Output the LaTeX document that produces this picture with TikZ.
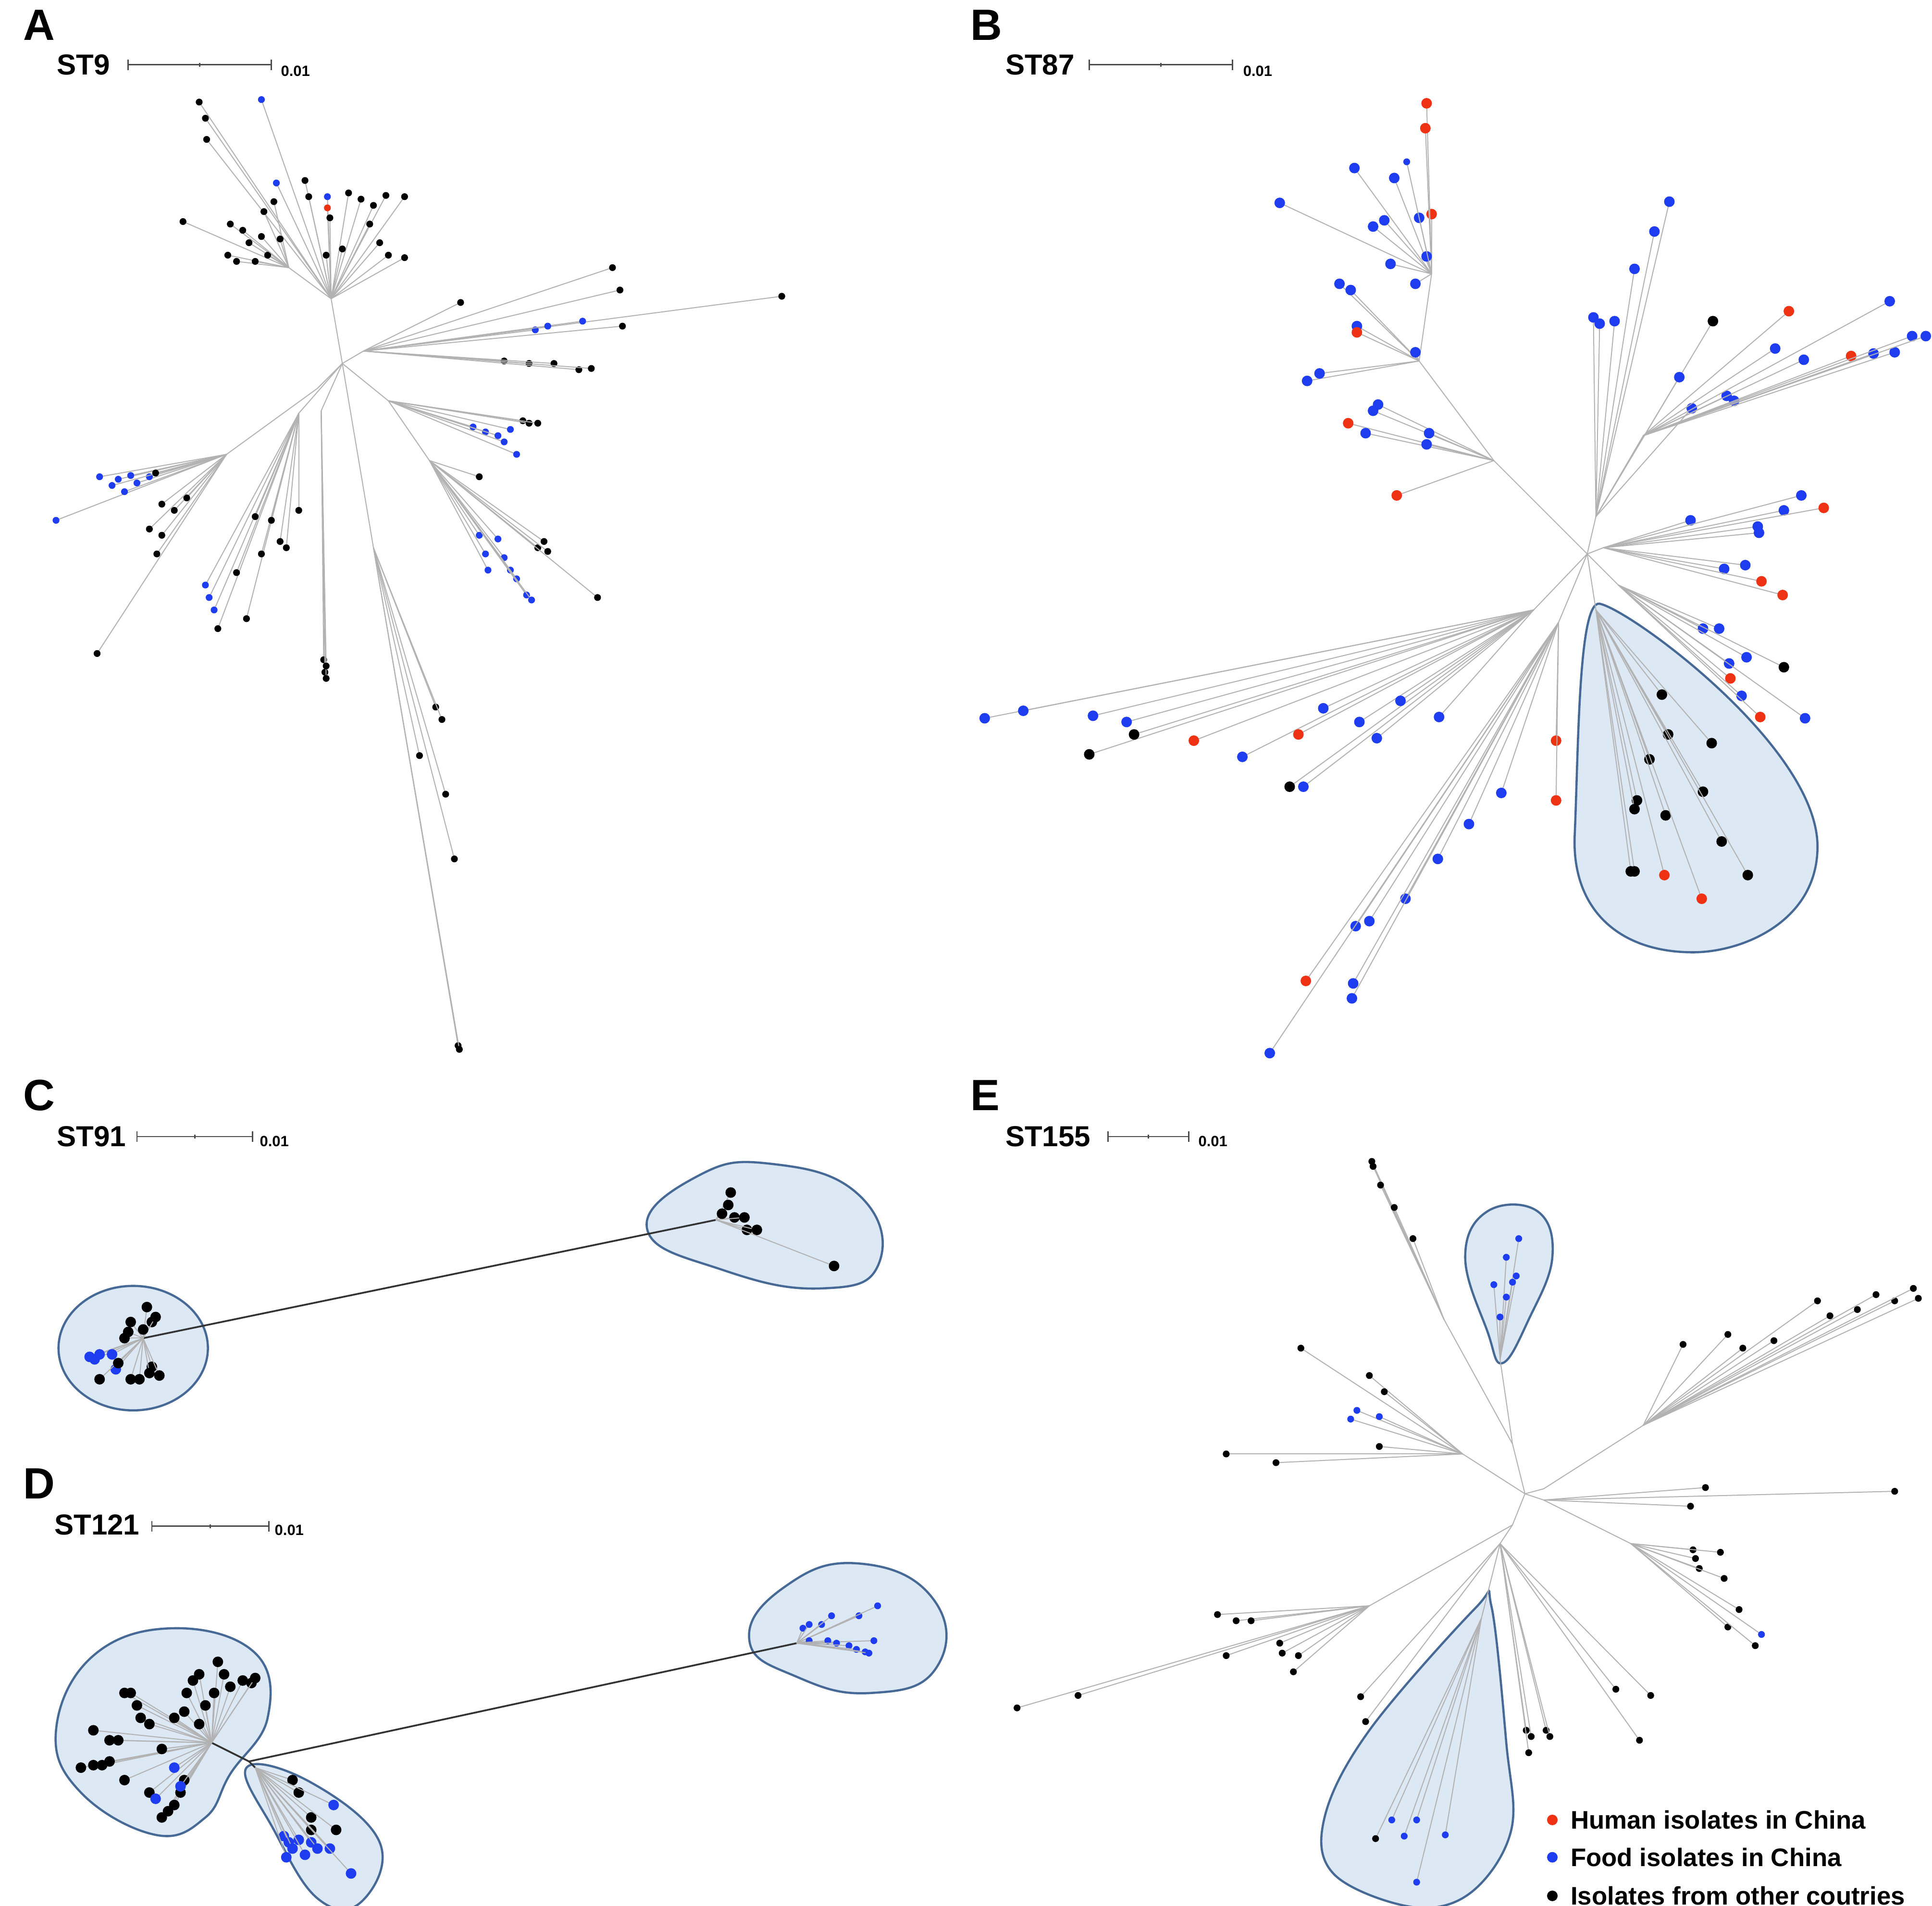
\documentclass[tikz,border=0pt]{standalone}
\usepackage{fontspec}
\setmainfont{Liberation Sans}
\definecolor{hr}{RGB}{240,50,20}
\definecolor{fb}{RGB}{30,60,240}
\definecolor{bf}{RGB}{221,232,245}
\definecolor{bd}{RGB}{70,105,150}
\newcounter{lf}
\tikzset{
 br/.style={draw=black!30,line width=0.22pt},
 lb/.style={draw=black!80,line width=0.4pt},
 dot/.style={circle,inner sep=0pt,minimum size=0.055cm,draw=none},
 bdot/.style={circle,inner sep=0pt,minimum size=0.085cm,draw=none},
 blob/.style={fill=bf,draw=bd,line width=0.5pt},
 plab/.style={font=\fontsize{10}{10}\selectfont\bfseries,anchor=west,inner sep=0pt},
 stlab/.style={font=\fontsize{6.6}{7}\selectfont\bfseries,anchor=west,inner sep=0pt},
 sclab/.style={font=\fontsize{3.4}{4}\selectfont\bfseries,anchor=west,inner sep=0pt},
 leg/.style={font=\fontsize{5.8}{6}\selectfont\bfseries,anchor=west,inner sep=0pt},
 sbar/.style={draw=black!70,line width=0.3pt}
}
\newcommand\lf[5][dot]{\stepcounter{lf}\draw[br] (#2) -- (#3,#4) node[#1,fill=#5] (l\thelf) {};}
\newcommand\leaves[3][dot]{\foreach \x/\y/\c in {#3} {\lf[#1]{#2}{\x}{\y}{\c}}}
\newcommand\scalebar[4]{% name, x1, x2, y
 \coordinate (#1a) at (#2,#4); \coordinate (#1b) at (#3,#4);
 \draw[sbar] (#1a) -- (#1b);
 \draw[sbar] ([yshift=-1.2pt]#1a) -- ([yshift=1.2pt]#1a);
 \draw[sbar] ([yshift=-1.2pt]#1b) -- ([yshift=1.2pt]#1b);
 \draw[sbar] ($(#1a)!0.5!(#1b)+(0,-1.5)$) -- ($(#1a)!0.5!(#1b)+(0,1.5)$);}
\usetikzlibrary{calc}
\begin{document}
\begin{tikzpicture}[x=0.01cm,y=-0.01cm]
\useasboundingbox (0,0) rectangle (1552,1531);
\fill[white] (0,0) rectangle (1552,1531);
% labels
\node[plab] (pA) at (18,20) {A};
\node[plab] (pB) at (779,20) {B};
\node[plab] (pC) at (18,880) {C};
\node[plab] (pD) at (18,1192) {D};
\node[plab] (pE) at (779,880) {E};
\node[stlab] (sA) at (45,52) {ST9};
\node[stlab] (sB) at (807,52) {ST87};
\node[stlab] (sC) at (45,913) {ST91};
\node[stlab] (sD) at (43,1225) {ST121};
\node[stlab] (sE) at (807,913) {ST155};
\scalebar{ka}{103}{218}{52}\node[sclab] (cA) at (225,57) {0.01};
\scalebar{kb}{875}{990}{52}\node[sclab] (cB) at (998,57) {0.01};
\scalebar{kc}{110}{203}{913}\node[sclab] (cC) at (208,917) {0.01};
\scalebar{kd}{122}{216}{1226}\node[sclab] (cD) at (220,1229) {0.01};
\scalebar{ke}{890}{955}{913}\node[sclab] (cE) at (962,917) {0.01};

% blobs
\path[blob] (1285,485) .. controls (1310,490) and (1460,600) .. (1460,680) .. controls (1460,740) and (1400,765) .. (1360,765) .. controls (1300,765) and (1262,730) .. (1265,670) .. controls (1268,600) and (1268,482) .. cycle;
\path[blob] (107,1083) ellipse [x radius=60,y radius=50];
\path[blob] plot[smooth cycle,tension=0.8] coordinates {(520,988) (560,945) (620,935) (690,960) (706,1015) (660,1035) (580,1020)};
\path[blob] plot[smooth cycle,tension=0.7] coordinates {(45,1390) (75,1330) (140,1308) (205,1328) (215,1380) (185,1425) (165,1460) (125,1474) (65,1440)};
\path[blob] plot[smooth cycle,tension=0.7] coordinates {(198,1420) (250,1432) (305,1480) (290,1528) (255,1525) (220,1470)};
\path[blob] plot[smooth cycle,tension=0.8] coordinates {(602,1318) (630,1275) (690,1256) (750,1285) (752,1340) (700,1360) (640,1347)};
\path[blob] plot[smooth cycle,tension=0.7] coordinates {(1177,1010) (1195,973) (1235,973) (1247,1010) (1228,1060) (1207,1095) (1195,1070)};
\path[blob] plot[smooth cycle,tension=0.6] coordinates {(1064,1460) (1100,1390) (1185,1292) (1198,1290) (1210,1400) (1214,1470) (1182,1520) (1135,1532) (1072,1506)};

% ---------- A
\coordinate (ar) at (275,292);
\coordinate (a1) at (266,240); \coordinate (a1l) at (232,215);
\coordinate (a2) at (292,282); \coordinate (a3) at (312,322);
\coordinate (a4) at (345,370); \coordinate (a5x) at (255,312);
\coordinate (a5) at (182,365); \coordinate (a6) at (240,332);
\coordinate (a7) at (258,330); \coordinate (a8) at (300,440);
\foreach \h in {a1,a2,a3,a5x,a6,a7,a8} {\draw[br] (ar) -- (\h);}
\draw[br] (a1) -- (a1l); \draw[br] (a3) -- (a4); \draw[br] (a5x) -- (a5);
\leaves{a1}{160/82/black,165/95/black,166/112/black,210/80/fb,222/147/fb,245/145/black,248/158/black,263/158/fb,263/167/hr,265/175/black,280/155/black,290/160/black,300/165/black,310/157/black,325/158/black,297/180/black,305/195/black,312/205/black,325/207/black,262/205/black,275/200/black}
\leaves{a1l}{147/178/black,185/180/black,183/205/black,190/210/black,200/195/black,210/190/black,215/205/black,220/162/black,212/170/black,195/185/black,205/210/black,225/192/black}
\leaves{a2}{492/215/black,498/233/black,628/238/black,370/243/black,500/262/black,468/258/fb,430/265/fb,440/262/fb,405/290/black,425/292/black,445/292/black,465/297/black,475/296/black}
\leaves{a3}{380/343/fb,390/347/fb,400/350/fb,405/355/fb,415/365/fb,420/338/black,425/340/black,432/340/black,410/345/fb}
\leaves{a4}{385/383/black,437/435/black,432/440/black,440/443/black,480/480/black,385/430/fb,390/445/fb,400/433/fb,405/448/fb,410/458/fb,415/465/fb,423/478/fb,427/482/fb,392/458/fb}
\leaves{a5}{45/418/fb,80/383/fb,95/385/fb,105/382/fb,110/388/fb,120/383/fb,100/395/fb,90/390/fb,125/380/black,130/405/black,140/410/black,150/400/black,120/425/black,130/430/black,126/445/black,78/525/black}
\leaves{a6}{165/470/fb,168/480/fb,172/490/fb,175/505/black,198/497/black,190/460/black,205/415/black,210/445/black,218/418/black,225/435/black,230/440/black,240/410/black}
\leaves{a7}{260/530/black,261/540/black,262/545/black,262/535/black}
\leaves{a8}{368/840/black,369/843/black,350/568/black,355/578/black,337/607/black,358/638/black,365/690/black}

% ---------- B
\coordinate (brt) at (1275,445);
\coordinate (b1) at (1200,370); \coordinate (b1a) at (1140,290); \coordinate (b1b) at (1150,220);
\coordinate (b2) at (1282,415); \coordinate (b2a) at (1320,350);
\coordinate (b3) at (1288,440); \coordinate (b4) at (1300,470);
\coordinate (b5) at (1282,490); \coordinate (b6) at (1232,490);
\coordinate (b7) at (1252,500);
\foreach \h in {b1,b2,b3,b4,b5,b6,b7} {\draw[br] (brt) -- (\h);}
\draw[br] (b1) -- (b1a); \draw[br] (b1a) -- (b1b); \draw[br] (b2) -- (b2a);
\leaves[bdot]{b1b}{1028/163/fb,1088/135/fb,1120/143/fb,1103/182/fb,1112/177/fb,1140/175/fb,1150/172/hr,1146/83/hr,1145/103/hr,1117/212/fb,1146/206/fb,1137/228/fb}
\leaves[bdot]{b1a}{1076/228/fb,1085/233/fb,1090/262/fb,1090/267/hr,1137/283/fb,1050/306/fb,1060/300/fb}
\leaves[bdot]{b1}{1083/340/hr,1097/348/fb,1103/330/fb,1107/325/fb,1148/348/fb,1146/357/fb,1122/398/hr}
\leaves{b1b}{1130/130/fb}
\leaves[bdot]{b2}{1280/255/fb,1285/260/fb,1297/258/fb,1313/216/fb,1329/186/fb,1341/162/fb,1376/258/black,1349/303/fb,1359/328/fb}
\leaves[bdot]{b2a}{1387/318/fb,1393/322/fb,1426/280/fb,1437/250/hr,1449/289/fb,1487/286/hr,1505/284/fb,1518/242/fb,1522/283/fb,1536/270/fb,1547/270/fb}
\leaves[bdot]{b3}{1358/418/fb,1412/423/fb,1413/428/fb,1433/410/fb,1447/398/fb,1465/408/hr,1385/457/fb,1402/454/fb,1415/467/hr,1432/478/hr}
\leaves[bdot]{b4}{1368/505/fb,1381/505/fb,1403/528/fb,1389/533/fb,1390/545/hr,1399/559/fb,1414/576/hr,1433/536/black,1450/577/fb}
\leaves[bdot]{b5}{1335/558/black,1340/590/black,1375/597/black,1325/610/black,1368/636/black,1315/643/black,1313/650/black,1338/655/black,1383/676/black,1310/700/black,1313/700/black,1337/703/hr,1367/722/hr,1404/703/black}
\leaves[bdot]{b6}{791/577/fb,822/571/fb,878/575/fb,905/580/fb,875/606/black,911/590/black,959/595/hr,998/608/fb,1043/590/hr,1063/569/fb,1092/580/fb,1106/593/fb,1036/632/black,1047/632/fb,1125/563/fb,1156/576/fb}
\leaves[bdot]{b7}{1250/595/hr,1250/643/hr,1206/637/fb,1180/662/fb,1155/690/fb,1129/722/fb,1100/740/fb,1089/744/fb,1049/788/hr,1087/790/fb,1086/802/fb,1020/846/fb}

% ---------- C
\coordinate (cl) at (115,1075); \coordinate (cr) at (575,980);
\draw[lb] (cl) -- (cr);
\leaves[bdot]{cl}{105/1062/black,103/1070/black,100/1075/black,118/1050/black,122/1062/black,125/1058/black,115/1068/black,72/1090/fb,76/1092/fb,80/1088/fb,90/1088/fb,93/1100/fb,80/1108/black,95/1095/black,105/1108/black,112/1108/black,122/1098/black,128/1105/black,120/1103/black}
\leaves[bdot]{cr}{587/958/black,585/968/black,590/978/black,598/978/black,600/988/black,608/988/black,670/1017/black,580/975/black}

% ---------- D
\coordinate (dl) at (170,1400); \coordinate (dj) at (200,1415);
\coordinate (dr) at (640,1320); \coordinate (dd) at (205,1420);
\draw[lb] (dl) -- (dj); \draw[lb] (dj) -- (dr); \draw[lb] (dj) -- (dd);
\leaves[bdot]{dl}{100/1360/black,110/1370/black,113/1380/black,120/1385/black,105/1360/black,75/1390/black,88/1398/black,95/1398/black,65/1420/black,75/1418/black,82/1418/black,88/1415/black,100/1430/black,120/1440/black,130/1460/black,135/1455/black,140/1450/black,145/1440/black,148/1430/black,130/1405/black,140/1380/black,148/1375/black,150/1360/black,155/1350/black,160/1345/black,175/1335/black,180/1345/black,185/1355/black,195/1350/black,202/1352/black,205/1348/black,172/1360/black,165/1370/black,160/1385/black,125/1445/fb,140/1420/fb,145/1435/fb}
\leaves[bdot]{dd}{235/1430/black,240/1440/black,250/1460/black,268/1450/fb,250/1470/black,270/1470/black,228/1475/fb,232/1480/fb,235/1485/fb,240/1478/fb,245/1490/fb,250/1480/fb,255/1485/fb,265/1485/fb,282/1505/fb,230/1492/fb}
\leaves[dot]{dr}{645/1308/fb,650/1305/fb,660/1305/fb,668/1298/fb,690/1298/fb,705/1290/fb,702/1318/fb,650/1318/fb,665/1318/fb,672/1320/fb,682/1322/fb,688/1325/fb,695/1327/fb,698/1328/fb}

% ---------- E
\coordinate (er) at (1225,1200);
\coordinate (e1) at (1215,1160); \coordinate (e1a) at (1160,1060); \coordinate (e1b) at (1205,1092);
\coordinate (e2) at (1175,1168); \coordinate (e3) at (1240,1196); \coordinate (e3a) at (1320,1145);
\coordinate (e4) at (1240,1205); \coordinate (e5) at (1310,1240);
\coordinate (e6) at (1215,1225); \coordinate (e6a) at (1100,1290);
\coordinate (e7) at (1205,1240); \coordinate (e8) at (1190,1300);
\foreach \h in {e1,e2,e3,e4,e6} {\draw[br] (er) -- (\h);}
\draw[br] (e1) -- (e1a); \draw[br] (e1) -- (e1b); \draw[br] (e3) -- (e3a);
\draw[br] (e4) -- (e5); \draw[br] (e6) -- (e6a); \draw[br] (e6) -- (e7); \draw[br] (e7) -- (e8);
\leaves{e1a}{1102/933/black,1103/937/black,1109/952/black,1120/970/black,1135/995/black}
\leaves{e1b}{1220/995/fb,1210/1010/fb,1218/1025/fb,1215/1030/fb,1200/1032/fb,1210/1042/fb,1205/1058/fb}
\leaves{e2}{1045/1083/black,1100/1105/black,1112/1118/black,1090/1133/fb,1085/1140/fb,1108/1138/fb,1108/1162/black,985/1168/black,1025/1175/black}
\leaves{e3a}{1352/1080/black,1388/1072/black,1400/1083/black,1425/1077/black,1460/1045/black,1470/1057/black,1492/1052/black,1507/1040/black,1522/1045/black,1537/1035/black,1541/1043/black}
\leaves{e4}{1370/1195/black,1522/1198/black,1358/1210/black}
\leaves{e5}{1360/1245/black,1382/1247/black,1362/1252/black,1365/1260/black,1385/1268/black,1397/1293/black,1388/1307/black,1410/1322/black,1415/1313/fb}
\leaves{e6a}{978/1297/black,993/1302/black,1005/1302/black,985/1330/black,1028/1320/black,1030/1328/black,1043/1330/black,1039/1343/black,866/1362/black,817/1372/black}
\leaves{e7}{1093/1363/black,1097/1383/black,1298/1357/black,1326/1362/black,1317/1398/black,1226/1390/black,1230/1395/black,1242/1390/black,1245/1395/black,1228/1408/black}
\leaves{e8}{1105/1477/black,1118/1462/fb,1128/1475/fb,1138/1462/fb,1161/1474/fb,1138/1512/fb}

% legend
\node[bdot,fill=hr] (g1) at (1247,1462) {};
\node[bdot,fill=fb] (g2) at (1247,1492) {};
\node[bdot,fill=black] (g3) at (1247,1523) {};
\node[leg] (t1) at (1261,1462) {Human isolates in China};
\node[leg] (t2) at (1261,1492) {Food isolates in China};
\node[leg] (t3) at (1261,1523) {Isolates from other coutries};
\end{tikzpicture}
\end{document}
